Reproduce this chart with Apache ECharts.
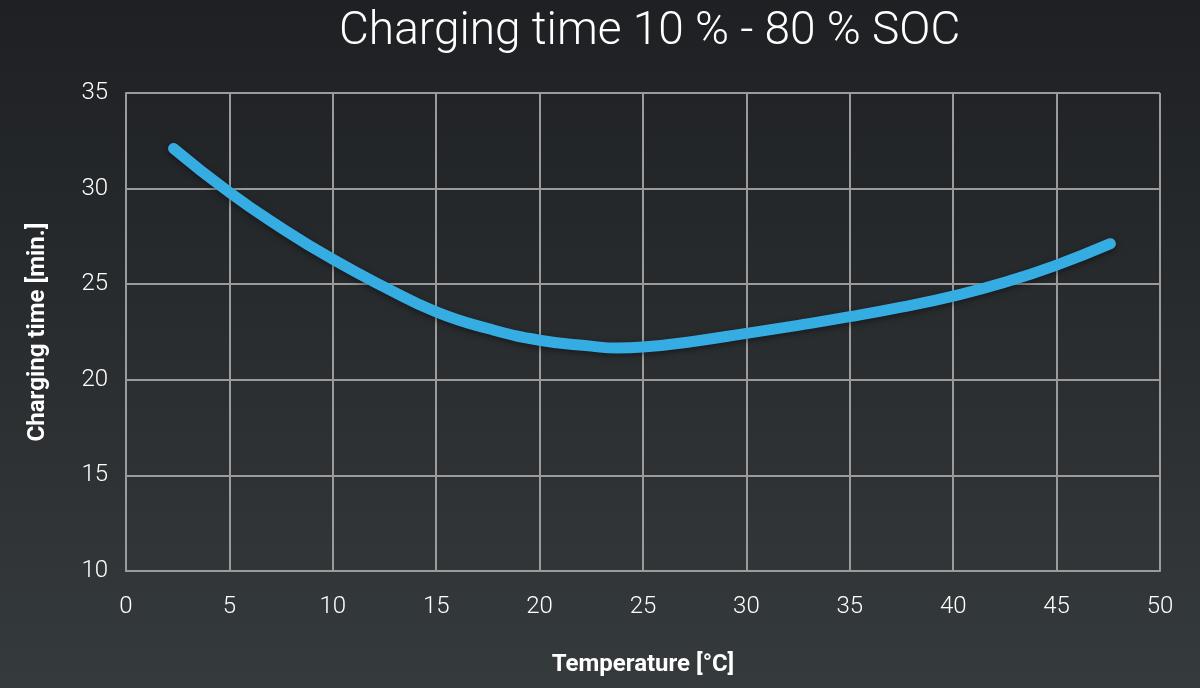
<!DOCTYPE html>
<html>
<head>
<meta charset="utf-8">
<script src="https://cdn.jsdelivr.net/npm/echarts@6/dist/echarts.min.js"></script>
<style>
html,body{margin:0;padding:0;background:#2a2d30;}
#chart{width:1200px;height:688px;}
</style>
</head>
<body>
<div id="chart"></div>
<script>
const temperature = [2.3, 5, 7.5, 10, 12.5, 15, 17.5, 20, 22.5, 23.75, 25, 27.5, 30, 32.5, 35, 37.5, 40, 42.5, 45, 47.6];
const chargingTime = [32.1, 29.8, 27.95, 26.3, 24.85, 23.55, 22.68, 22.07, 21.76, 21.66, 21.71, 22.02, 22.43, 22.85, 23.3, 23.8, 24.38, 25.1, 26.0, 27.12];
const xTicks = [0, 5, 10, 15, 20, 25, 30, 35, 40, 45, 50];
const yTicks = [10, 15, 20, 25, 30, 35];

const chart = echarts.init(document.getElementById('chart'));
const gridColor = '#9b9b9b';
chart.setOption({
  backgroundColor: {
    type: 'linear', x: 0, y: 0, x2: 0, y2: 1,
    colorStops: [{offset: 0, color: '#1e2023'}, {offset: 1, color: '#353a3d'}]
  },
  title: {
    text: 'Charging time 10 % - 80 % SOC',
    left: 334,
    top: 4,
    textStyle: {color: '#ffffff', fontFamily: 'Roboto', fontWeight: 300, fontSize: 46}
  },
  grid: {left: 126, right: 40, top: 93, bottom: 117},
  xAxis: {
    type: 'value',
    min: xTicks[0], max: xTicks[xTicks.length - 1], interval: 5,
    name: 'Temperature [°C]',
    nameLocation: 'middle',
    nameGap: 82,
    nameTextStyle: {color: '#ffffff', fontFamily: 'Roboto', fontWeight: 'bold', fontSize: 24},
    axisLine: {show: true, lineStyle: {color: gridColor, width: 2}},
    axisTick: {show: false},
    axisLabel: {color: '#ffffff', fontFamily: 'Roboto', fontWeight: 300, fontSize: 24, margin: 24},
    splitLine: {show: true, lineStyle: {color: gridColor, width: 2}}
  },
  yAxis: {
    type: 'value',
    min: yTicks[0], max: yTicks[yTicks.length - 1], interval: 5,
    name: 'Charging time [min.]',
    nameLocation: 'middle',
    nameGap: 76,
    nameRotate: 90,
    nameTextStyle: {color: '#ffffff', fontFamily: 'Roboto', fontWeight: 'bold', fontSize: 24},
    axisLine: {show: true, lineStyle: {color: gridColor, width: 2}},
    axisTick: {show: false},
    axisLabel: {color: '#ffffff', fontFamily: 'Roboto', fontWeight: 300, fontSize: 24, margin: 18},
    splitLine: {show: true, lineStyle: {color: gridColor, width: 2}}
  },
  series: [{
    type: 'line',
    data: temperature.map((t, i) => [t, chargingTime[i]]),
    smooth: true,
    showSymbol: false,
    lineStyle: {color: '#36ade2', width: 11, cap: 'round', join: 'round',
      shadowColor: 'rgba(0,0,0,0.45)', shadowBlur: 6, shadowOffsetY: 2},
    animation: false
  }]
});
</script>
</body>
</html>
